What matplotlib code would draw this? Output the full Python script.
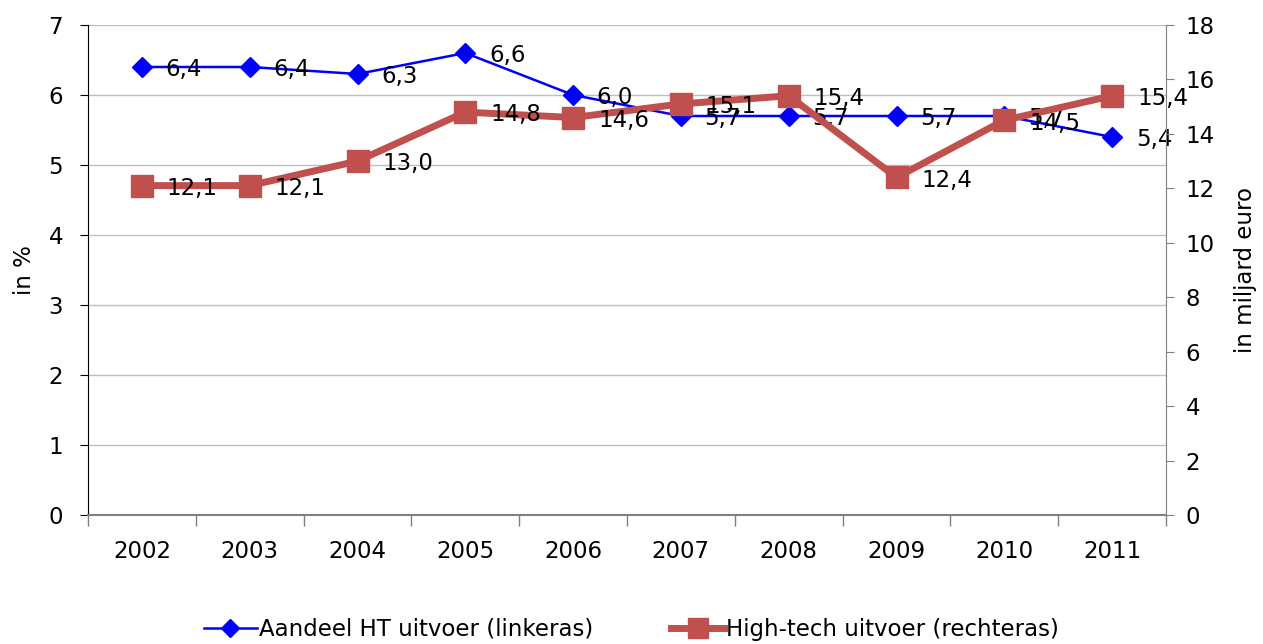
import matplotlib
matplotlib.use("Agg")
import matplotlib.pyplot as plt
from matplotlib.ticker import FixedLocator

years = ["2002", "2003", "2004", "2005", "2006", "2007", "2008", "2009", "2010", "2011"]
aandeel = [6.4, 6.4, 6.3, 6.6, 6.0, 5.7, 5.7, 5.7, 5.7, 5.4]
hightech = [12.1, 12.1, 13.0, 14.8, 14.6, 15.1, 15.4, 12.4, 14.5, 15.4]
label_blue = "Aandeel HT uitvoer (linkeras)"
label_red = "High-tech uitvoer (rechteras)"

plt.rcParams['font.family'] = ['DejaVu Sans']
FS = 16.5

fig = plt.figure(figsize=(12.63, 6.44), dpi=100)
ax = fig.add_axes([0.0697, 0.2003, 0.9232 - 0.0697, 0.9612 - 0.2003])
ax2 = ax.twinx()

x = list(range(len(years)))
blue = "#0000FF"
red = "#C0504D"

l1, = ax.plot(x, aandeel, color=blue, lw=1.8, marker="D", ms=10, mec=blue, mfc=blue, zorder=3)
l2, = ax2.plot(x, hightech, color=red, lw=5, marker="s", ms=15.5, mec=red, mfc=red, zorder=3)

for xi, v in zip(x, aandeel):
    ax.annotate(f"{v:.1f}".replace(".", ","), (xi, v), xytext=(17, -2), textcoords="offset points",
                ha="left", va="center", fontsize=FS, zorder=5)
for xi, v in zip(x, hightech):
    ax2.annotate(f"{v:.1f}".replace(".", ","), (xi, v), xytext=(18, -2), textcoords="offset points",
                 ha="left", va="center", fontsize=FS, zorder=5)

ax.set_xlim(-0.5, len(years) - 0.5)
ax.set_ylim(0, 7)
ax2.set_ylim(0, 18)
ax.set_yticks(range(0, 8))
ax2.set_yticks(range(0, 19, 2))

ax.set_xticks(x)
ax.set_xticklabels(years, fontsize=FS)
ax.tick_params(axis="x", which="major", length=0, pad=18)
ax.xaxis.set_minor_locator(FixedLocator([i - 0.5 for i in range(len(years) + 1)]))
ax.tick_params(axis="x", which="minor", length=8, color="#808080", width=1)

ax.tick_params(axis="y", labelsize=FS, length=6, color="black", pad=12)
ax2.tick_params(axis="y", labelsize=FS, length=6, color="#808080", pad=8)

ax.yaxis.grid(True, color="#BFBFBF", lw=1)
ax.set_axisbelow(True)

for s in ["top"]:
    ax.spines[s].set_visible(False)
    ax2.spines[s].set_visible(False)
ax.spines["left"].set_color("black")
ax.spines["bottom"].set_color("#808080")
ax.spines["bottom"].set_linewidth(1.5)
ax2.spines["right"].set_color("#808080")
ax2.spines["left"].set_visible(False)
ax2.spines["bottom"].set_visible(False)
ax.spines["right"].set_visible(False)

ax.set_ylabel("in %", fontsize=FS, labelpad=9)
ax2.set_ylabel("in miljard euro", fontsize=FS, labelpad=14)

fig.legend([l1, l2], [label_blue, label_red], loc="lower center", bbox_to_anchor=(0.5, -0.027),
           ncol=2, frameon=False, fontsize=FS, handlelength=2.3, handletextpad=0.1,
           columnspacing=3.4, markerscale=0.9)

fig.savefig("out.png", dpi=100)
